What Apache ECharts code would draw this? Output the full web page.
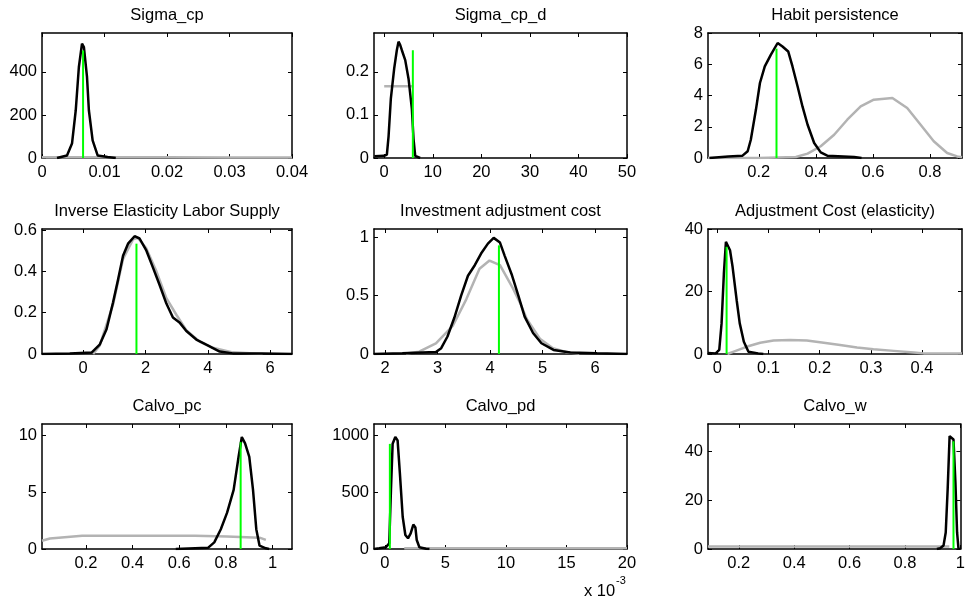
<!DOCTYPE html>
<html><head><meta charset="utf-8">
<script src="https://cdn.jsdelivr.net/npm/echarts@6/dist/echarts.min.js"></script>
<style>html,body{margin:0;padding:0;background:#fff}#c{width:968px;height:609px}</style>
</head><body><div id="c"></div>
<script>
// ---------------- data ----------------
const titles = ['Sigma_cp','Sigma_cp_d','Habit persistence','Inverse Elasticity Labor Supply','Investment adjustment cost','Adjustment Cost (elasticity)','Calvo_pc','Calvo_pd','Calvo_w'];

// Sigma_cp
const sigmaCpPriorX = [0, 0.01, 0.02, 0.03, 0.04];
const sigmaCpPriorY = [4, 3, 3, 2.5, 2.5];
const sigmaCpPostX = [0.0024, 0.0040, 0.0048, 0.0054, 0.0059, 0.0064, 0.0067, 0.0072, 0.0075, 0.0081, 0.0089, 0.0105, 0.0118];
const sigmaCpPostY = [0, 12, 67, 222, 423, 532, 516, 377, 222, 82, 12, 5, 0];
const sigmaCpMode = [0.00657, 500];

// Sigma_cp_d
const sigmaCpdPriorX = [0, 6];
const sigmaCpdPriorY = [0.1667, 0.1667];
const sigmaCpdPostX = [-2.0, 0.0, 0.55, 0.9, 1.37, 2.06, 2.6, 2.95, 3.3, 3.64, 4.33, 5.01, 5.7, 6.04, 6.39, 7.4];
const sigmaCpdPostY = [0.004, 0.005, 0.008, 0.05, 0.138, 0.208, 0.25, 0.27, 0.262, 0.25, 0.227, 0.184, 0.114, 0.044, 0.005, 0];
const sigmaCpdMode = [5.9, 0.25];

// Habit persistence
const habitPriorX = [0.022, 0.2, 0.33, 0.371, 0.417, 0.464, 0.51, 0.557, 0.603, 0.668, 0.72, 0.767, 0.813, 0.86, 0.895, 0.912];
const habitPriorY = [0, 0, 0.06, 0.28, 0.75, 1.49, 2.45, 3.3, 3.73, 3.84, 3.2, 2.13, 1.07, 0.32, 0.1, 0.05];
const habitPostX = [0.027, 0.093, 0.143, 0.161, 0.172, 0.19, 0.204, 0.221, 0.242, 0.266, 0.283, 0.303, 0.318, 0.336, 0.353, 0.371, 0.394, 0.417, 0.44, 0.534, 0.56];
const habitPostY = [0, 0.1, 0.15, 0.43, 1.17, 3.1, 4.8, 5.86, 6.6, 7.36, 7.14, 6.82, 5.86, 4.58, 3.3, 2.13, 0.96, 0.36, 0.15, 0.06, 0];
const habitMode = [0.262, 7.0];

// Inverse Elasticity Labor Supply
const laborPriorX = [0.32, 0.53, 0.96, 1.28, 1.6, 1.76, 2.03, 2.35, 2.67, 2.99, 3.31, 3.74, 4.16, 4.8, 5.76];
const laborPriorY = [0, 0.04, 0.24, 0.46, 0.555, 0.562, 0.51, 0.4, 0.27, 0.19, 0.115, 0.06, 0.03, 0.008, 0];
const laborPostX = [-1.32, -0.43, 0.27, 0.53, 0.75, 0.96, 1.12, 1.28, 1.44, 1.65, 1.81, 2.03, 2.24, 2.45, 2.67, 2.88, 3.09, 3.31, 3.63, 3.95, 4.38, 4.8, 5.76, 6.7];
const laborPostY = [0, 0.003, 0.007, 0.045, 0.12, 0.25, 0.36, 0.476, 0.534, 0.57, 0.559, 0.5, 0.418, 0.335, 0.244, 0.177, 0.153, 0.111, 0.07, 0.045, 0.012, 0.003, 0.003, 0];
const laborMode = [1.71, 0.534];

// Investment adjustment cost
const investPriorX = [2.4, 2.65, 2.97, 3.29, 3.55, 3.8, 3.99, 4.19, 4.44, 4.57, 4.7, 4.95, 5.2, 5.46, 5.7];
const investPriorY = [0.005, 0.02, 0.09, 0.24, 0.47, 0.73, 0.8, 0.76, 0.56, 0.44, 0.3, 0.13, 0.05, 0.015, 0.005];
const investPostX = [1.79, 2.33, 2.97, 3.07, 3.19, 3.32, 3.45, 3.58, 3.71, 3.83, 3.96, 4.07, 4.19, 4.28, 4.41, 4.54, 4.66, 4.82, 4.98, 5.21, 5.53, 6.04, 6.61];
const investPostY = [0, 0.006, 0.017, 0.05, 0.15, 0.31, 0.5, 0.67, 0.76, 0.86, 0.945, 0.994, 0.954, 0.84, 0.685, 0.5, 0.32, 0.18, 0.092, 0.035, 0.012, 0.006, 0];
const investMode = [4.17, 0.93];

// Adjustment Cost (elasticity)
const adjPriorX = [0.02, 0.031, 0.057, 0.084, 0.11, 0.142, 0.175, 0.208, 0.24, 0.273, 0.305, 0.345, 0.384, 0.403, 0.478];
const adjPriorY = [0, 0.7, 2.3, 3.6, 4.3, 4.5, 4.3, 3.6, 2.9, 2.1, 1.5, 1.0, 0.5, 0.2, 0.2];
const adjPostX = [-0.018, -0.003, 0.004, 0.0085, 0.013, 0.017, 0.0196, 0.025, 0.030, 0.038, 0.044, 0.052, 0.061, 0.08, 0.09];
const adjPostY = [0.3, 0.2, 1.3, 9.8, 25.7, 35.9, 36.4, 33.2, 27.9, 17.2, 9.8, 3.9, 0.7, 0.2, 0];
const adjMode = [0.0183, 34.3];

// Calvo_pc
const calvoPcPriorX = [0.012, 0.046, 0.184, 0.39, 0.667, 0.804, 0.944, 0.971];
const calvoPcPriorY = [0.72, 0.93, 1.16, 1.16, 1.16, 1.1, 1.0, 0.8];
const calvoPcPostX = [0.585, 0.723, 0.75, 0.778, 0.805, 0.833, 0.854, 0.868, 0.882, 0.9, 0.916, 0.93, 0.944, 0.971, 0.985];
const calvoPcPostY = [0, 0.1, 0.58, 1.74, 3.2, 5.2, 8.1, 9.86, 9.3, 8.1, 5.2, 1.74, 0.29, 0.06, 0];
const calvoPcMode = [0.863, 9.4];

// Calvo_pd
const calvoPdPriorX = [0.0016, 0.005, 0.01, 0.015, 0.02];
const calvoPdPriorY = [6, 6, 6, 6, 6];
const calvoPdPostX = [-0.00089, -0.00047, 0.00008, 0.00036, 0.0005, 0.00064, 0.00086, 0.00105, 0.00124, 0.00147, 0.00169, 0.00191, 0.00213, 0.00235, 0.00252, 0.00263, 0.00285, 0.0034, 0.00368];
const calvoPdPostY = [0, 6, 15, 50, 517, 927, 985, 956, 664, 284, 123, 94, 137, 215, 190, 79, 15, 3, 0];
const calvoPdMode = [0.00041, 925];

// Calvo_w
const calvoWPriorX = [0.089, 0.3, 0.5, 0.7, 0.9, 0.96];
const calvoWPriorY = [1, 1, 1, 1, 1, 1];
const calvoWPostX = [0.915, 0.927, 0.939, 0.947, 0.954, 0.961, 0.968, 0.975, 0.982, 0.988, 0.993, 0.998];
const calvoWPostY = [0, 0.3, 1.4, 6.8, 24.6, 46.4, 47, 45, 27.3, 6.8, 0.3, 0];
const calvoWMode = [0.975, 44.3];

// axis limits and ticks
const xRanges = [[0, 0.04], [-2.1, 50], [0.022, 0.912], [-1.32, 6.7], [1.79, 6.61], [-0.018, 0.478], [0.012, 1.083], [-0.0009, 0.02], [0.089, 1.0]];
const yRanges = [[0, 581], [0, 0.29], [0, 8], [0, 0.605], [0, 1.07], [0, 40], [0, 11], [0, 1100], [0, 51.4]];
const xTicks = [[0, 0.01, 0.02, 0.03, 0.04], [0, 10, 20, 30, 40, 50], [0.2, 0.4, 0.6, 0.8], [0, 2, 4, 6], [2, 3, 4, 5, 6], [0, 0.1, 0.2, 0.3, 0.4], [0.2, 0.4, 0.6, 0.8, 1], [0, 0.005, 0.01, 0.015, 0.02], [0.2, 0.4, 0.6, 0.8, 1]];
const xTickLabels = [['0','0.01','0.02','0.03','0.04'], ['0','10','20','30','40','50'], ['0.2','0.4','0.6','0.8'], ['0','2','4','6'], ['2','3','4','5','6'], ['0','0.1','0.2','0.3','0.4'], ['0.2','0.4','0.6','0.8','1'], ['0','5','10','15','20'], ['0.2','0.4','0.6','0.8','1']];
const yTicks = [[0, 200, 400], [0, 0.1, 0.2], [0, 2, 4, 6, 8], [0, 0.2, 0.4, 0.6], [0, 0.5, 1], [0, 20, 40], [0, 5, 10], [0, 500, 1000], [0, 20, 40]];
const yTickLabels = [['0','200','400'], ['0','0.1','0.2'], ['0','2','4','6','8'], ['0','0.2','0.4','0.6'], ['0','0.5','1'], ['0','20','40'], ['0','5','10'], ['0','500','1000'], ['0','20','40']];
const exponentLabel = 'x 10';
const exponentPower = '-3';

// ---------------- build ----------------
const panels = [
  [sigmaCpPriorX, sigmaCpPriorY, sigmaCpPostX, sigmaCpPostY, sigmaCpMode],
  [sigmaCpdPriorX, sigmaCpdPriorY, sigmaCpdPostX, sigmaCpdPostY, sigmaCpdMode],
  [habitPriorX, habitPriorY, habitPostX, habitPostY, habitMode],
  [laborPriorX, laborPriorY, laborPostX, laborPostY, laborMode],
  [investPriorX, investPriorY, investPostX, investPostY, investMode],
  [adjPriorX, adjPriorY, adjPostX, adjPostY, adjMode],
  [calvoPcPriorX, calvoPcPriorY, calvoPcPostX, calvoPcPostY, calvoPcMode],
  [calvoPdPriorX, calvoPdPriorY, calvoPdPostX, calvoPdPostY, calvoPdMode],
  [calvoWPriorX, calvoWPriorY, calvoWPostX, calvoWPostY, calvoWMode]
];
const FONT = '"Liberation Sans", Arial, Helvetica, sans-serif';
const FS = 16.5;
const colLeft = [42, 374, 708], colWidth = [250, 253, 254];
const rowTop = [33, 229, 424], rowHeight = 125;
const zip = (a, b) => a.map((v, i) => [v, b[i]]);
const lookup = (ticks, labels) => v => { for (let j = 0; j < ticks.length; j++) if (Math.abs(v - ticks[j]) < 1e-9 * Math.max(1, Math.abs(ticks[j]))) return labels[j]; return ''; };

const grid = [], xAxis = [], yAxis = [], series = [], graphic = [];
const axLine = { show: true, onZero: false, lineStyle: { color: '#000', width: 1.5 } };
panels.forEach((p, i) => {
  const c = i % 3, r = Math.floor(i / 3);
  grid.push({ left: colLeft[c], top: rowTop[r], width: colWidth[c], height: rowHeight, containLabel: false });
  const [xmin, xmax] = xRanges[i], [ymin, ymax] = yRanges[i];
  xAxis.push({ type: 'value', gridIndex: i, position: 'bottom', min: xmin, max: xmax, axisLine: axLine,
    axisTick: { show: true, inside: true, length: 4, customValues: xTicks[i], lineStyle: { color: '#000', width: 1 } },
    axisLabel: { show: true, customValues: xTicks[i], formatter: lookup(xTicks[i], xTickLabels[i]), color: '#000', fontSize: FS, fontFamily: FONT, margin: 6, hideOverlap: false, showMinLabel: true, showMaxLabel: true },
    splitLine: { show: false } });
  xAxis.push({ type: 'value', gridIndex: i, position: 'top', min: xmin, max: xmax, axisLine: axLine,
    axisTick: { show: true, inside: true, length: 4, customValues: xTicks[i], lineStyle: { color: '#000', width: 1 } },
    axisLabel: { show: false }, splitLine: { show: false } });
  yAxis.push({ type: 'value', gridIndex: i, position: 'left', min: ymin, max: ymax, axisLine: axLine,
    axisTick: { show: true, inside: true, length: 4, customValues: yTicks[i], lineStyle: { color: '#000', width: 1 } },
    axisLabel: { show: true, customValues: yTicks[i], formatter: lookup(yTicks[i], yTickLabels[i]), color: '#000', fontSize: FS, fontFamily: FONT, margin: 5, showMinLabel: true, showMaxLabel: true },
    splitLine: { show: false } });
  yAxis.push({ type: 'value', gridIndex: i, position: 'right', min: ymin, max: ymax, axisLine: axLine,
    axisTick: { show: true, inside: true, length: 4, customValues: yTicks[i], lineStyle: { color: '#000', width: 1 } },
    axisLabel: { show: false }, splitLine: { show: false } });
  const common = { type: 'line', xAxisIndex: 2 * i, yAxisIndex: 2 * i, showSymbol: false, symbol: 'none', smooth: false, animation: false, silent: true, clip: true };
  series.push(Object.assign({}, common, { data: zip(p[0], p[1]), lineStyle: { color: '#b3b3b3', width: 2.5 }, z: 2 }));
  series.push(Object.assign({}, common, { data: zip(p[2], p[3]), lineStyle: { color: '#000', width: 2.5 }, z: 3 }));
  series.push(Object.assign({}, common, { data: [[p[4][0], 0], [p[4][0], p[4][1]]], lineStyle: { color: '#00ff00', width: 2 }, z: 4 }));
  graphic.push({ type: 'text', x: colLeft[c] + colWidth[c] / 2, y: rowTop[r] - 18,
    style: { text: titles[i], fill: '#000', font: FS + 'px ' + FONT, align: 'center', verticalAlign: 'middle' } });
});
graphic.push({ type: 'text', x: 584, y: 591, style: { text: exponentLabel, fill: '#000', font: FS + 'px ' + FONT, align: 'left', verticalAlign: 'middle' } });
graphic.push({ type: 'text', x: 616, y: 581, style: { text: exponentPower, fill: '#000', font: '11px ' + FONT, align: 'left', verticalAlign: 'middle' } });

const chart = echarts.init(document.getElementById('c'), null, { renderer: 'canvas' });
chart.setOption({ animation: false, backgroundColor: '#fff', grid, xAxis, yAxis, series, graphic });
</script></body></html>
